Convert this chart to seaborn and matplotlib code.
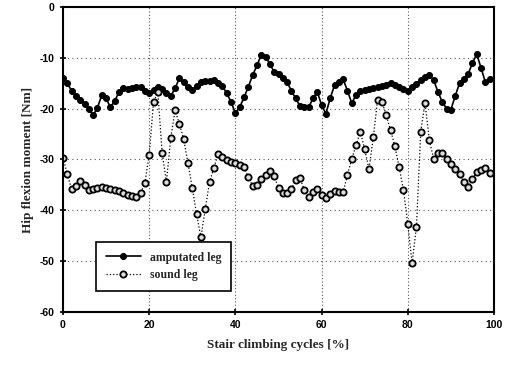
import numpy as np
import pandas as pd
import matplotlib
matplotlib.use("Agg")
import matplotlib.pyplot as plt
import seaborn as sns

cycle = list(range(0, 100))
amputated_leg = [
    -14.0, -15.0, -16.5, -17.5, -18.3, -19.0, -20.0, -21.3, -19.8, -17.3,
    -18.0, -19.7, -18.5, -16.7, -16.0, -16.2, -15.9, -15.7, -15.8, -16.5,
    -17.0, -16.4, -15.7, -16.2, -17.0, -17.5, -16.0, -14.0, -14.8, -15.8,
    -16.3, -15.5, -14.8, -14.6, -14.5, -14.4, -15.0, -15.6, -17.0, -18.7,
    -20.9, -19.7, -17.8, -15.7, -13.4, -11.5, -9.4, -9.8, -11.2, -12.8,
    -13.2, -14.0, -14.8, -16.5, -18.0, -19.5, -19.7, -19.7, -18.0, -16.7,
    -19.3, -21.0, -17.9, -15.4, -14.8, -14.2, -16.5, -18.9, -17.3, -16.5,
    -16.3, -16.1, -16.0, -15.8, -15.6, -15.3, -15.0, -15.3, -15.7, -16.2,
    -16.5, -15.8, -15.2, -14.4, -13.8, -13.4, -14.4, -16.7, -18.7, -20.0,
    -20.2, -17.5, -15.0, -14.2, -13.2, -11.0, -9.3, -12.0, -14.8, -14.2,
]
sound_leg = [
    -29.7, -32.9, -35.8, -35.2, -34.2, -35.0, -36.0, -35.8, -35.6, -35.4,
    -35.6, -35.8, -36.0, -36.2, -36.6, -37.0, -37.2, -37.4, -36.6, -34.6,
    -29.1, -18.7, -16.7, -28.7, -34.4, -25.8, -20.3, -23.0, -26.0, -30.7,
    -35.6, -40.8, -45.3, -39.8, -34.4, -31.7, -28.9, -29.5, -30.1, -30.5,
    -30.7, -31.0, -31.5, -33.5, -35.2, -35.0, -33.9, -33.1, -32.3, -33.3,
    -35.6, -36.6, -36.6, -35.8, -34.0, -33.7, -36.0, -37.4, -36.4, -35.8,
    -37.0, -37.6, -36.8, -36.2, -36.4, -36.4, -33.0, -29.9, -27.2, -24.6,
    -28.0, -31.9, -25.6, -18.2, -18.6, -21.3, -24.2, -27.4, -31.5, -36.0,
    -42.7, -50.4, -43.3, -24.5, -18.9, -26.2, -29.9, -28.7, -28.7, -29.9,
    -30.9, -31.9, -32.9, -34.4, -35.4, -33.9, -32.5, -32.1, -31.7, -32.7,
]
x_ticks = [0, 20, 40, 60, 80, 100]
y_ticks = [0, -10, -20, -30, -40, -50, -60]

sns.set_style("ticks")
plt.rcParams['font.family'] = ['Liberation Sans', 'DejaVu Sans']

fig = plt.figure(figsize=(5.12, 3.66), dpi=100)
ax = fig.add_axes([63/512, 1-312/366, (494-63)/512, (312-7)/366])

sns.lineplot(x=cycle, y=amputated_leg, ax=ax, color='black', linewidth=1.2,
             marker='o', markersize=4.3, markerfacecolor='black',
             markeredgecolor='black', label='amputated leg')
sns.lineplot(x=cycle, y=sound_leg, ax=ax, color='black', linewidth=0.9,
             linestyle=':', marker='o', markersize=4.5, markerfacecolor='#dddddd',
             markeredgecolor='black', markeredgewidth=1.3, label='sound leg')

ax.set_xlim(0, 100)
ax.set_ylim(-60, 0)
ax.set_xticks(x_ticks)
ax.set_yticks(y_ticks)
ax.set_xticklabels([str(t) for t in x_ticks], fontsize=7.5, fontweight='bold')
ax.set_yticklabels([str(t) for t in y_ticks], fontsize=7.5, fontweight='bold')
ax.tick_params(direction='inout', length=5, width=1.2, colors='black')

for gx in [20, 40, 60, 80]:
    ax.axvline(gx, color='#555555', linestyle=(0, (1, 2)), linewidth=0.8, zorder=0)
for gy in [-10, -20, -30, -40, -50]:
    ax.axhline(gy, color='#555555', linestyle=(0, (1, 3)), linewidth=0.8, zorder=0)

for s in ax.spines.values():
    s.set_visible(True)
    s.set_color('black')
    s.set_linewidth(1.5)

ax.set_xlabel('Stair climbing cycles [%]', fontsize=9.5, family='Liberation Serif',
              fontweight='bold', labelpad=6)
ax.set_ylabel('Hip flexion moment [Nm]', fontsize=9.5, family='Liberation Serif',
              fontweight='bold', labelpad=4)

leg = ax.legend(loc='lower left', bbox_to_anchor=(0.063, 0.05), frameon=True,
                fancybox=False, edgecolor='black', framealpha=1,
                prop={'family': 'Liberation Serif', 'size': 8.5, 'weight': 'bold'},
                handlelength=3, borderpad=0.8, labelspacing=0.5)
leg.get_frame().set_linewidth(1.2)

fig.savefig('out.png', dpi=100)
